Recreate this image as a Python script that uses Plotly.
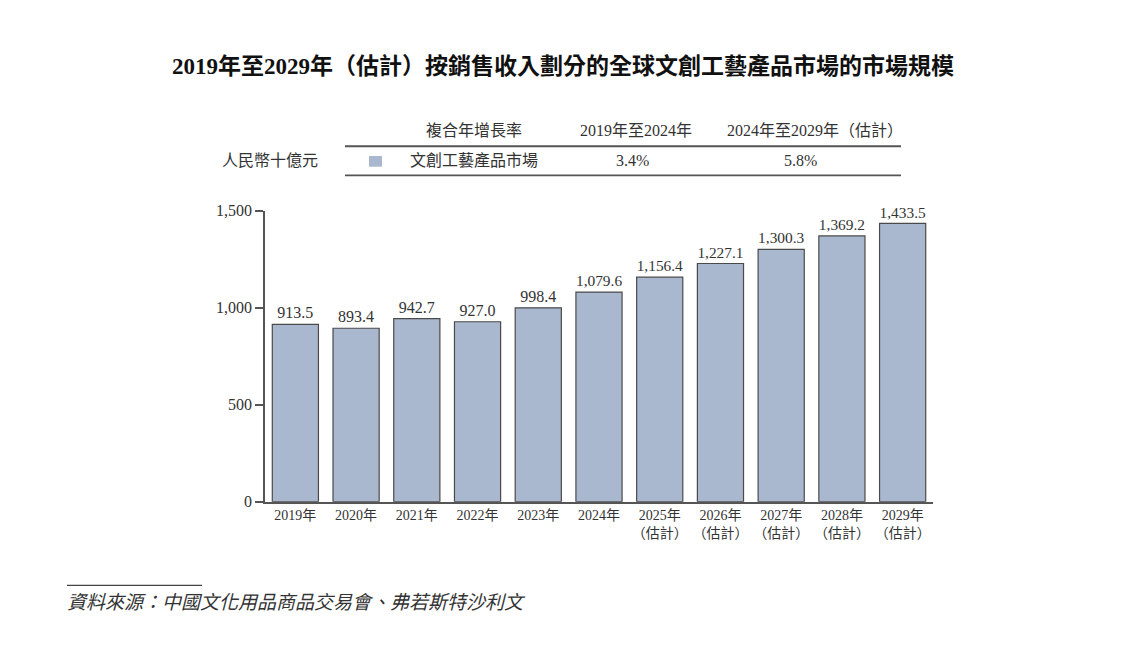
import plotly.graph_objects as go

years = ["2019年", "2020年", "2021年", "2022年", "2023年", "2024年",
         "2025年<br>（估計）", "2026年<br>（估計）", "2027年<br>（估計）",
         "2028年<br>（估計）", "2029年<br>（估計）"]
market_size = [913.5, 893.4, 942.7, 927.0, 998.4, 1079.6,
               1156.4, 1227.1, 1300.3, 1369.2, 1433.5]
y_ticks = [0, 500, 1000, 1500]
y_tick_labels = ["0", "500", "1,000", "1,500"]

cagr_header = ["複合年增長率", "2019年至2024年", "2024年至2029年（估計）"]
cagr_row = ["文創工藝產品市場", "3.4%", "5.8%"]
unit_label = "人民幣十億元"

title = "2019年至2029年（估計）按銷售收入劃分的全球文創工藝產品市場的市場規模"
source = "資料來源：中國文化用品商品交易會、弗若斯特沙利文"

# positions below are given in pixels of the 1126x645 reference
W, H = 1126, 645
bar_color = "#a9b8ce"
text_color = "#333333"
font_family = "Liberation Serif, Noto Sans CJK TC, serif"


def px(x):
    return x / W


def py(y):
    return 1 - y / H


fig = go.Figure()
fig.add_trace(go.Bar(
    x=list(range(len(years))),
    y=market_size,
    width=0.76,
    marker=dict(color=bar_color, line=dict(color="#4a4a4a", width=1.2)),
    text=market_size,
    texttemplate="%{y:,.1f}",
    textposition="outside",
    cliponaxis=False,
    textfont=dict(size=16, color=text_color, family=font_family),
    hoverinfo="skip",
))

fig.update_layout(
    autosize=True,
    margin=dict(l=0, r=0, t=0, b=0),
    paper_bgcolor="white",
    plot_bgcolor="white",
    showlegend=False,
    font=dict(family=font_family, color=text_color, size=16),
    xaxis=dict(
        domain=[px(265), px(933)],
        range=[-0.5, 10.5],
        tickmode="array",
        tickvals=list(range(len(years))),
        ticktext=years,
        tickangle=0,
        showline=True, linecolor="#555555", linewidth=1.5,
        ticks="", showgrid=False, zeroline=False,
        tickfont=dict(size=14, color=text_color),
    ),
    yaxis=dict(
        domain=[py(507), py(208)],
        range=[0, 1500],
        tickmode="array",
        tickvals=y_ticks,
        ticktext=y_tick_labels,
        showline=True, linecolor="#555555", linewidth=1.5,
        ticks="outside", ticklen=8, tickcolor="#555555", tickwidth=1.5,
        showgrid=False, zeroline=False,
        tickfont=dict(size=16, color=text_color),
    ),
)

# title
fig.add_annotation(
    x=0.5, y=py(60), xref="paper", yref="paper",
    text="<b>" + title + "</b>", showarrow=False,
    font=dict(size=23, color="#111111"), xanchor="center", yanchor="middle",
)

# cagr table
header_x = [474, 636, 815]
row_x = [474, 632, 800]
for label, x in zip(cagr_header, header_x):
    fig.add_annotation(x=px(x), y=py(126), xref="paper", yref="paper", text=label,
                       showarrow=False, font=dict(size=16), xanchor="center", yanchor="middle")
for label, x in zip(cagr_row, row_x):
    fig.add_annotation(x=px(x), y=py(157), xref="paper", yref="paper", text=label,
                       showarrow=False, font=dict(size=16), xanchor="center", yanchor="middle")
fig.add_annotation(x=px(270), y=py(157), xref="paper", yref="paper", text=unit_label,
                   showarrow=False, font=dict(size=16), xanchor="center", yanchor="middle")

for ly in [142, 172]:
    fig.add_shape(type="line", xref="paper", yref="paper",
                  x0=px(345), x1=px(901), y0=py(ly), y1=py(ly),
                  line=dict(color="#555555", width=1.8))
fig.add_shape(type="rect", xref="paper", yref="paper",
              x0=px(369), x1=px(382), y0=py(163), y1=py(152),
              fillcolor=bar_color, line=dict(width=0))

# source
fig.add_shape(type="line", xref="paper", yref="paper",
              x0=px(67), x1=px(202), y0=py(593), y1=py(593),
              line=dict(color="#444444", width=1.2))
fig.add_annotation(x=px(65), y=py(611), xref="paper", yref="paper",
                   text="<i>" + source + "</i>", showarrow=False,
                   font=dict(size=19), xanchor="left", yanchor="middle")

# fill the window exactly: no page margin, graph div sized to the viewport
fig.write_html(
    "out.html",
    config={"displayModeBar": False, "responsive": True},
    default_width="100vw",
    default_height="100vh",
    post_script="document.body.style.margin='0';"
                "document.documentElement.style.overflow='hidden';"
                "Plotly.Plots.resize(document.getElementById('{plot_id}'));",
)
